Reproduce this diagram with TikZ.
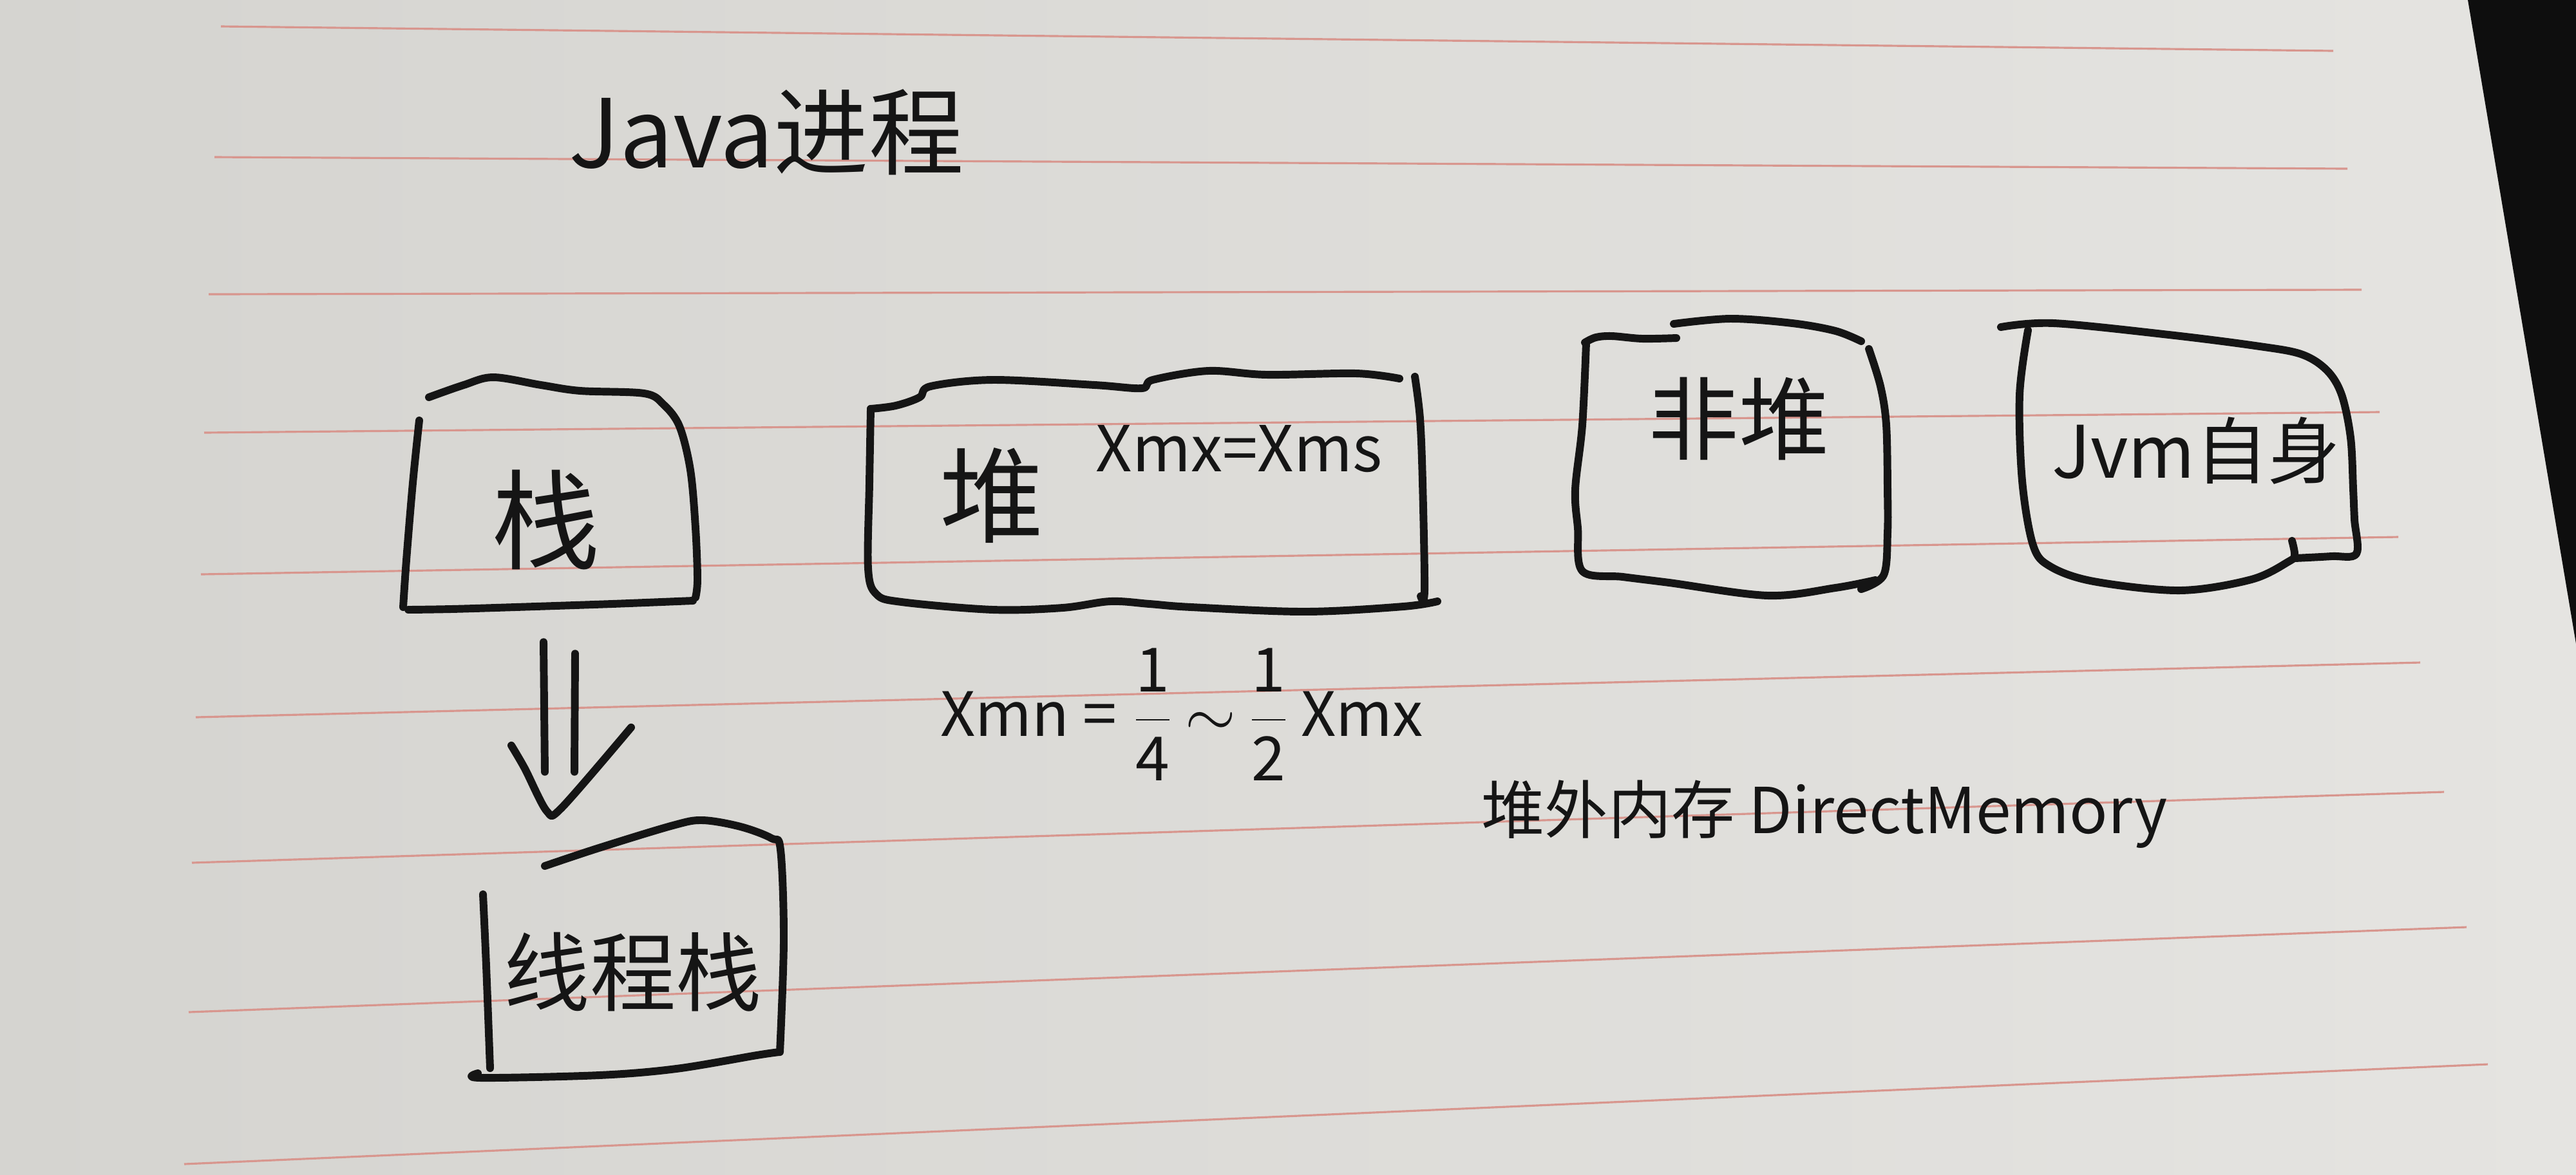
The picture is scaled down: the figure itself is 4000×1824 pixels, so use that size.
\documentclass[tikz,border=0pt]{standalone}
\usepackage{fontspec}
\setmainfont{Noto Sans CJK SC}
\usetikzlibrary{calc}
\definecolor{ink}{HTML}{151515}
\definecolor{paperL}{HTML}{D5D4D0}
\definecolor{paperR}{HTML}{E5E4E1}
\definecolor{rulered}{HTML}{D8968E}
\definecolor{darkbg}{HTML}{0E0E0E}
\begin{document}
\begin{tikzpicture}[x=0.005cm,y=-0.005cm,
  ink/.style={draw=ink,line width=1.7pt,line cap=round,line join=round},
  ruleline/.style={draw=rulered,line width=0.45pt},
  txt/.style={text=ink,inner sep=0pt},
  area/.style={draw=none,inner sep=0pt,rectangle}]
\useasboundingbox (0,0) rectangle (4000,1824);
\shade[left color=paperL,right color=paperR] (0,0) rectangle (4000,1824);
\fill[darkbg] (3832,0) -- (4000,0) -- (4000,1000) -- cycle;
% ruled lines
\foreach \xa/\ya/\xb/\yb in {343/41/3623/79, 333/244/3645/262, 324/457/3667/450,
  317/672/3695/640, 312/892/3724/834, 304/1114/3758/1029, 298/1340/3795/1230,
  293/1572/3830/1440, 286/1808/3863/1653}
  \draw[ruleline] (\xa,\ya) -- (\xb,\yb);

% title
\node[txt,font=\fontsize{21}{21}\selectfont] (title) at (1190,205) {Java进程};

% box areas (named)
\node[area,minimum width=2.285cm,minimum height=1.805cm] (stackbox) at (854.5,766.5) {};
\node[area,minimum width=4.32cm,minimum height=1.875cm] (heapbox) at (1780,762) {};
\node[area,minimum width=2.425cm,minimum height=2.15cm] (nonheapbox) at (2688,710) {};
\node[area,minimum width=2.755cm,minimum height=2.075cm] (jvmbox) at (3382,709) {};
\node[area,minimum width=2.375cm,minimum height=2cm] (tstackbox) at (980,1474) {};

% 栈 box outline
\draw[ink] plot[smooth,tension=0.55] coordinates {(666,617) (720,598) (766,586) (840,598) (901,607) (1000,611) (1030,628) (1055,662) (1072,730) (1080,820) (1083,900) (1080,928)};
\draw[ink] plot[smooth,tension=0.55] coordinates {(1076,933) (950,938) (800,943) (700,946) (634,947)};
\draw[ink] plot[smooth,tension=0.55] coordinates {(651,653) (641,750) (631,870) (626,943)};

% 堆 box outline
\draw[ink] plot[smooth,tension=0.55] coordinates {(1352,635) (1391,630) (1428,617) (1445,600) (1542,590) (1700,598) (1773,603) (1790,590) (1876,576) (1967,582) (2106,580) (2173,588)};
\draw[ink] plot[smooth,tension=0.55] coordinates {(2197,585) (2205,650) (2209,750) (2212,917) (2206,926)};
\draw[ink] plot[smooth,tension=0.55] coordinates {(1352,635) (1350,750) (1348,883) (1361,923) (1400,935) (1542,947) (1650,944) (1724,934) (1785,938) (1850,943) (2027,950) (2179,942) (2232,934)};

% 非堆 box outline
\draw[ink] plot[smooth,tension=0.55] coordinates {(2461,532) (2478,524) (2503,522) (2550,526) (2603,525)};
\draw[ink] plot[smooth,tension=0.55] coordinates {(2599,503) (2687,495) (2783,502) (2850,514) (2890,530)};
\draw[ink] plot[smooth,tension=0.55] coordinates {(2902,542) (2920,600) (2929,660) (2931,760) (2931,827) (2925,893) (2890,915)};
\draw[ink] plot[smooth,tension=0.55] coordinates {(2463,532) (2457,660) (2446,760) (2450,820) (2457,887) (2520,896) (2592,905) (2745,925) (2850,913) (2912,901)};

% JVM box outline
\draw[ink] plot[smooth,tension=0.55] coordinates {(3107,508) (3189,502) (3368,520) (3502,537) (3573,550) (3613,575) (3636,613) (3650,680) (3654,760) (3656,807) (3659,860) (3620,864) (3563,867)};
\draw[ink] plot[smooth,tension=0.55] coordinates {(3559,840) (3563,862) (3554,872) (3496,900) (3385,917) (3251,903) (3184,880) (3157,847) (3140,747) (3136,613) (3149,513)};

% 线程栈 box outline
\draw[ink] plot[smooth,tension=0.55] coordinates {(846,1345) (930,1317) (1045,1282) (1091,1274) (1150,1284) (1198,1302) (1212,1320) (1217,1460) (1211,1634)};
\draw[ink] plot[smooth,tension=0.55] coordinates {(1210,1634) (1175,1639) (1050,1660) (930,1670) (746,1674) (742,1667)};
\draw[ink] plot[smooth,tension=0.55] coordinates {(750,1389) (755,1500) (761,1659)};

% box labels
\node[txt,font=\fontsize{24}{24}\selectfont] (stacklbl) at (848,807) {栈};
\node[txt,font=\fontsize{23}{23}\selectfont] (heaplbl) at (1540,770) {堆};
\node[txt,font=\fontsize{14}{14}\selectfont] (xmxlbl) at (1924,697) {Xmx=Xms};
\node[txt,font=\fontsize{20}{20}\selectfont] (nonheaplbl) at (2700,650) {非堆};
\node[txt,font=\fontsize{16}{16}\selectfont] (jvmlbl) at (3410,700) {Jvm自身};
\node[txt,font=\fontsize{19}{19}\selectfont] (tstacklbl) at (983,1510) {线程栈};

% free texts
\node[txt,font=\fontsize{13.5}{13.5}\selectfont] (xmn) at (1835,1110)
  {Xmn = $\displaystyle\frac{\mbox{1}}{\mbox{4}}$\,$\sim$\,$\displaystyle\frac{\mbox{1}}{\mbox{2}}$\,Xmx};
\node[txt,font=\fontsize{14}{14}\selectfont] (direct) at (2833,1265) {堆外内存 DirectMemory};

% double arrow from 栈 to 线程栈
\coordinate (s1) at ($(stackbox.south)+(-10.5,49)$);
\coordinate (e1) at ($(tstackbox.north)+(-134,-74)$);
\coordinate (s2) at ($(stackbox.south)+(38.5,67)$);
\coordinate (e2) at ($(tstackbox.north)+(-88,-74)$);
\coordinate (h1) at ($(tstackbox.north)+(-186,-115)$);
\coordinate (h2) at ($(tstackbox.north)+(-165,-79)$);
\coordinate (h3) at ($(tstackbox.north)+(-131,-13)$);
\coordinate (h4) at ($(tstackbox.north)+(-108,-18)$);
\coordinate (h5) at ($(tstackbox.north)+(0,-143)$);
\draw[ink] (s1) -- (e1);
\draw[ink] (s2) -- (e2);
\draw[ink] plot[smooth,tension=0.5] coordinates {(h1) (h2) (h3) (h4) (h5)};
\end{tikzpicture}
\end{document}
